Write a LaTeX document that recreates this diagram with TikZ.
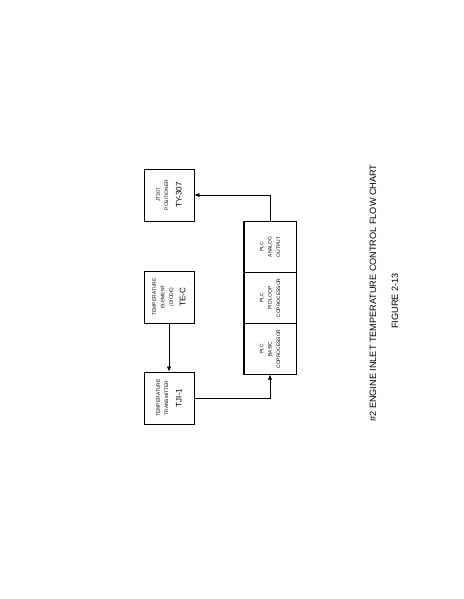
\documentclass[tikz,border=0pt]{standalone}
\usepackage{fontspec}
\setmainfont{Liberation Sans}
\usetikzlibrary{shapes,arrows,arrows.meta,positioning,calc}

\newcommand{\boxtxt}{\fontsize{7}{7.8}\selectfont}
\newcommand{\boxid}{\fontsize{11.5}{13}\selectfont}

\tikzset{
  blk/.style={rectangle, draw, line width=1.3pt, minimum width=2.6cm, minimum height=2.5cm, align=center, inner sep=0pt},
  cell/.style={rectangle, draw, line width=0.6pt, minimum width=2.55cm, minimum height=2.6cm, align=center, inner sep=0pt},
  arr/.style={-{Latex[length=7pt,width=6pt]}, line width=0.7pt},
}

\begin{document}
\begin{tikzpicture}[x=0.05cm, y=0.05cm]
\useasboundingbox (0,0) rectangle (463,-599);
\fill[white] (0,0) rectangle (463,-599);

\begin{scope}[rotate=90, transform shape]
\node[blk] (tji) at (-398,-169) {\boxtxt TEMPERATURE\\\boxtxt TRANSMITTER\\[7pt]\boxid TJI-1};
\node[blk] (tec) at (-297,-169) {\boxtxt TEMPERATURE\\\boxtxt ELEMENT\\\boxtxt (DIODE)\\[6pt]\boxid TE-C};
\node[blk] (ty) at (-195,-169) {\boxtxt JT307\\\boxtxt POSITIONER\\[7pt]\boxid TY-307};

\node[cell] (basic) at (-349,-270) {\boxtxt PLC\\\boxtxt BASIC\\\boxtxt COPROCESSOR};
\node[cell] (pid) at (-298,-270) {\boxtxt PLC\\\boxtxt PID LOOP\\\boxtxt COPROCESSOR};
\node[cell] (analog) at (-247,-270) {\boxtxt PLC\\\boxtxt ANALOG\\\boxtxt OUTPUT};
\draw[line width=1.3pt] (basic.north west) rectangle (analog.south east);

\draw[arr] (tec) -- (tji);
\draw[arr] (tji.south) |- (basic.west);
\draw[arr] (analog.east) -| (ty.south);

\node (title) at (-293,-373) {\fontsize{13}{15}\selectfont \#2 ENGINE INLET TEMPERATURE CONTROL FLOW CHART};
\node (fig) at (-301,-395) {\fontsize{13}{15}\selectfont FIGURE 2-13};
\end{scope}
\end{tikzpicture}
\end{document}
